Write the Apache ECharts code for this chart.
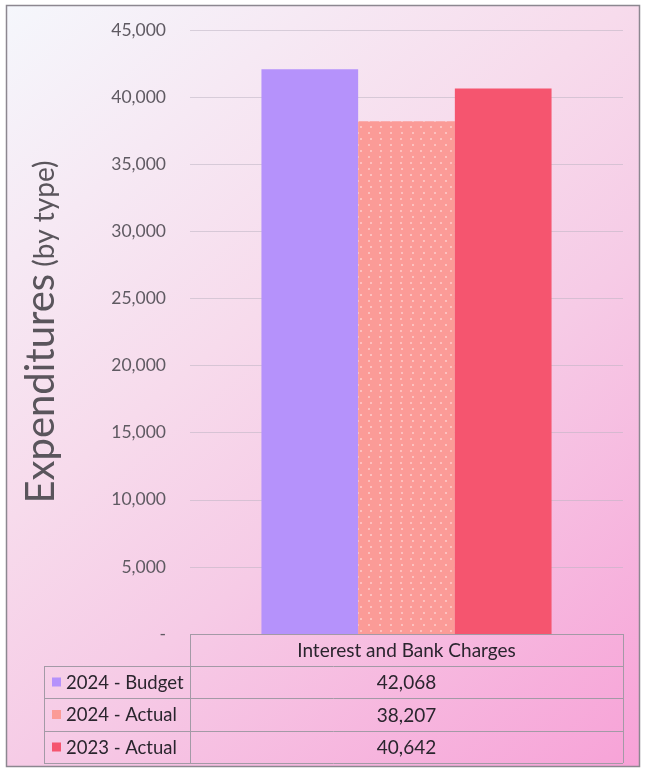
<!DOCTYPE html>
<html>
<head>
<meta charset="utf-8">
<script src="https://cdn.jsdelivr.net/npm/echarts@6/dist/echarts.min.js"></script>
<style>
  html, body { margin: 0; padding: 0; background: #ffffff; }
  #chart { width: 645px; height: 772px; }
</style>
</head>
<body>
<div id="chart"></div>
<script>
// Expenditures by type — one category, three series, with a data table underneath
const categories = ['Interest and Bank Charges'];
const seriesNames = ['2024 - Budget', '2024 - Actual', '2023 - Actual'];
const budget2024 = [42068];
const actual2024 = [38207];
const actual2023 = [40642];
const yTicks = [0, 5000, 10000, 15000, 20000, 25000, 30000, 35000, 40000, 45000];

const seriesValues = [budget2024, actual2024, actual2023];
const colors = ['#b592fb', '#fb9b97', '#f5556f'];
const FONT = 'Lato, "Open Sans", sans-serif';

const fmt = v => (v === 0 ? '-' : v.toLocaleString('en-US'));

const chart = echarts.init(document.getElementById('chart'), null, { renderer: 'canvas' });

// table geometry
const GRID = { left: 190, right: 22, top: 30, bottom: 138 };
const W = 645, H = 772;
const tableLeft = 44;
const colX = GRID.left;
const tableRight = W - GRID.right;
const rowTops = [634, 666, 698, 731, 763];
const lineColor = '#a39aa6';

const dotDecal = {
  symbol: 'circle',
  symbolSize: 1,
  color: 'rgba(255,255,255,0.5)',
  dashArrayX: [[1.6, 8], [0, 4.8, 1.6, 3.2]],
  dashArrayY: [1.6, 3.4]
};

function buildTable() {
  const els = [];
  // frame with gradient fill
  els.push({
    type: 'rect', z: -10, silent: true,
    shape: { x: 6.5, y: 5.5, width: 633, height: 761 },
    style: {
      fill: new echarts.graphic.LinearGradient(0, 0, 1, 1, [
        { offset: 0, color: '#f5f7fc' },
        { offset: 0.4, color: '#f7dbec' },
        { offset: 0.6, color: '#f6cbe6' },
        { offset: 1, color: '#f7a2d7' }
      ]),
      stroke: '#8c8790', lineWidth: 1.5
    }
  });
  const hl = (x1, x2, y) => els.push({ type: 'line', z: 5, silent: true,
    shape: { x1, y1: y + 0.5, x2, y2: y + 0.5 }, style: { stroke: lineColor, lineWidth: 1 } });
  const vl = (x, y1, y2) => els.push({ type: 'line', z: 5, silent: true,
    shape: { x1: x + 0.5, y1, x2: x + 0.5, y2 }, style: { stroke: lineColor, lineWidth: 1 } });

  hl(colX, tableRight, rowTops[0]);
  for (let i = 1; i < rowTops.length; i++) hl(tableLeft, tableRight, rowTops[i]);
  vl(tableLeft, rowTops[1], rowTops[4]);
  vl(colX, rowTops[0], rowTops[4]);
  vl(tableRight, rowTops[0], rowTops[4]);

  const midX = (colX + tableRight) / 2;
  els.push({ type: 'text', z: 6, silent: true, x: midX, y: (rowTops[0] + rowTops[1]) / 2 + 1,
    style: { text: categories[0], fill: '#2a252e', font: '19px ' + FONT, align: 'center', verticalAlign: 'middle' } });

  seriesNames.forEach((name, i) => {
    const cy = (rowTops[i + 1] + rowTops[i + 2]) / 2;
    els.push({ type: 'rect', z: 6, silent: true, shape: { x: 52, y: cy - 4.5, width: 9, height: 9 },
      style: { fill: colors[i] } });
    els.push({ type: 'text', z: 6, silent: true, x: 66, y: cy + 1,
      style: { text: name, fill: '#2a252e', font: '18.5px ' + FONT, align: 'left', verticalAlign: 'middle' } });
    els.push({ type: 'text', z: 6, silent: true, x: midX, y: cy + 1,
      style: { text: fmt(seriesValues[i][0]), fill: '#2a252e', font: '19px ' + FONT, align: 'center', verticalAlign: 'middle' } });
  });
  return els;
}

chart.setOption({
  backgroundColor: '#ffffff',
  animation: false,
  grid: GRID,
  xAxis: {
    type: 'category',
    data: categories,
    axisLine: { show: false },
    axisTick: { show: false },
    axisLabel: { show: false }
  },
  yAxis: {
    type: 'value',
    min: yTicks[0],
    max: yTicks[yTicks.length - 1],
    interval: yTicks[1] - yTicks[0],
    name: '{a|Expenditures}{b| (by type)}',
    nameLocation: 'middle',
    nameGap: 129,
    nameTextStyle: {
      color: '#5a555c',
      rich: {
        a: { fontSize: 40, fontFamily: FONT, color: '#5a555c', verticalAlign: 'bottom', lineHeight: 46 },
        b: { fontSize: 28, fontFamily: FONT, color: '#5a555c', verticalAlign: 'bottom', lineHeight: 46, padding: [0, 0, 2, 0] }
      }
    },
    axisLine: { show: false },
    axisTick: { show: false },
    axisLabel: { formatter: fmt, color: '#5f5a62', fontSize: 17.5, fontFamily: FONT, margin: 24 },
    splitLine: { lineStyle: { color: 'rgba(190,180,195,0.55)', width: 1 } }
  },
  series: seriesNames.map((name, i) => ({
    name,
    type: 'bar',
    data: seriesValues[i],
    barGap: '0%',
    barCategoryGap: '33%',
    itemStyle: Object.assign({ color: colors[i] }, i === 1 ? { decal: dotDecal } : {})
  })),
  graphic: buildTable()
});
</script>
</body>
</html>
